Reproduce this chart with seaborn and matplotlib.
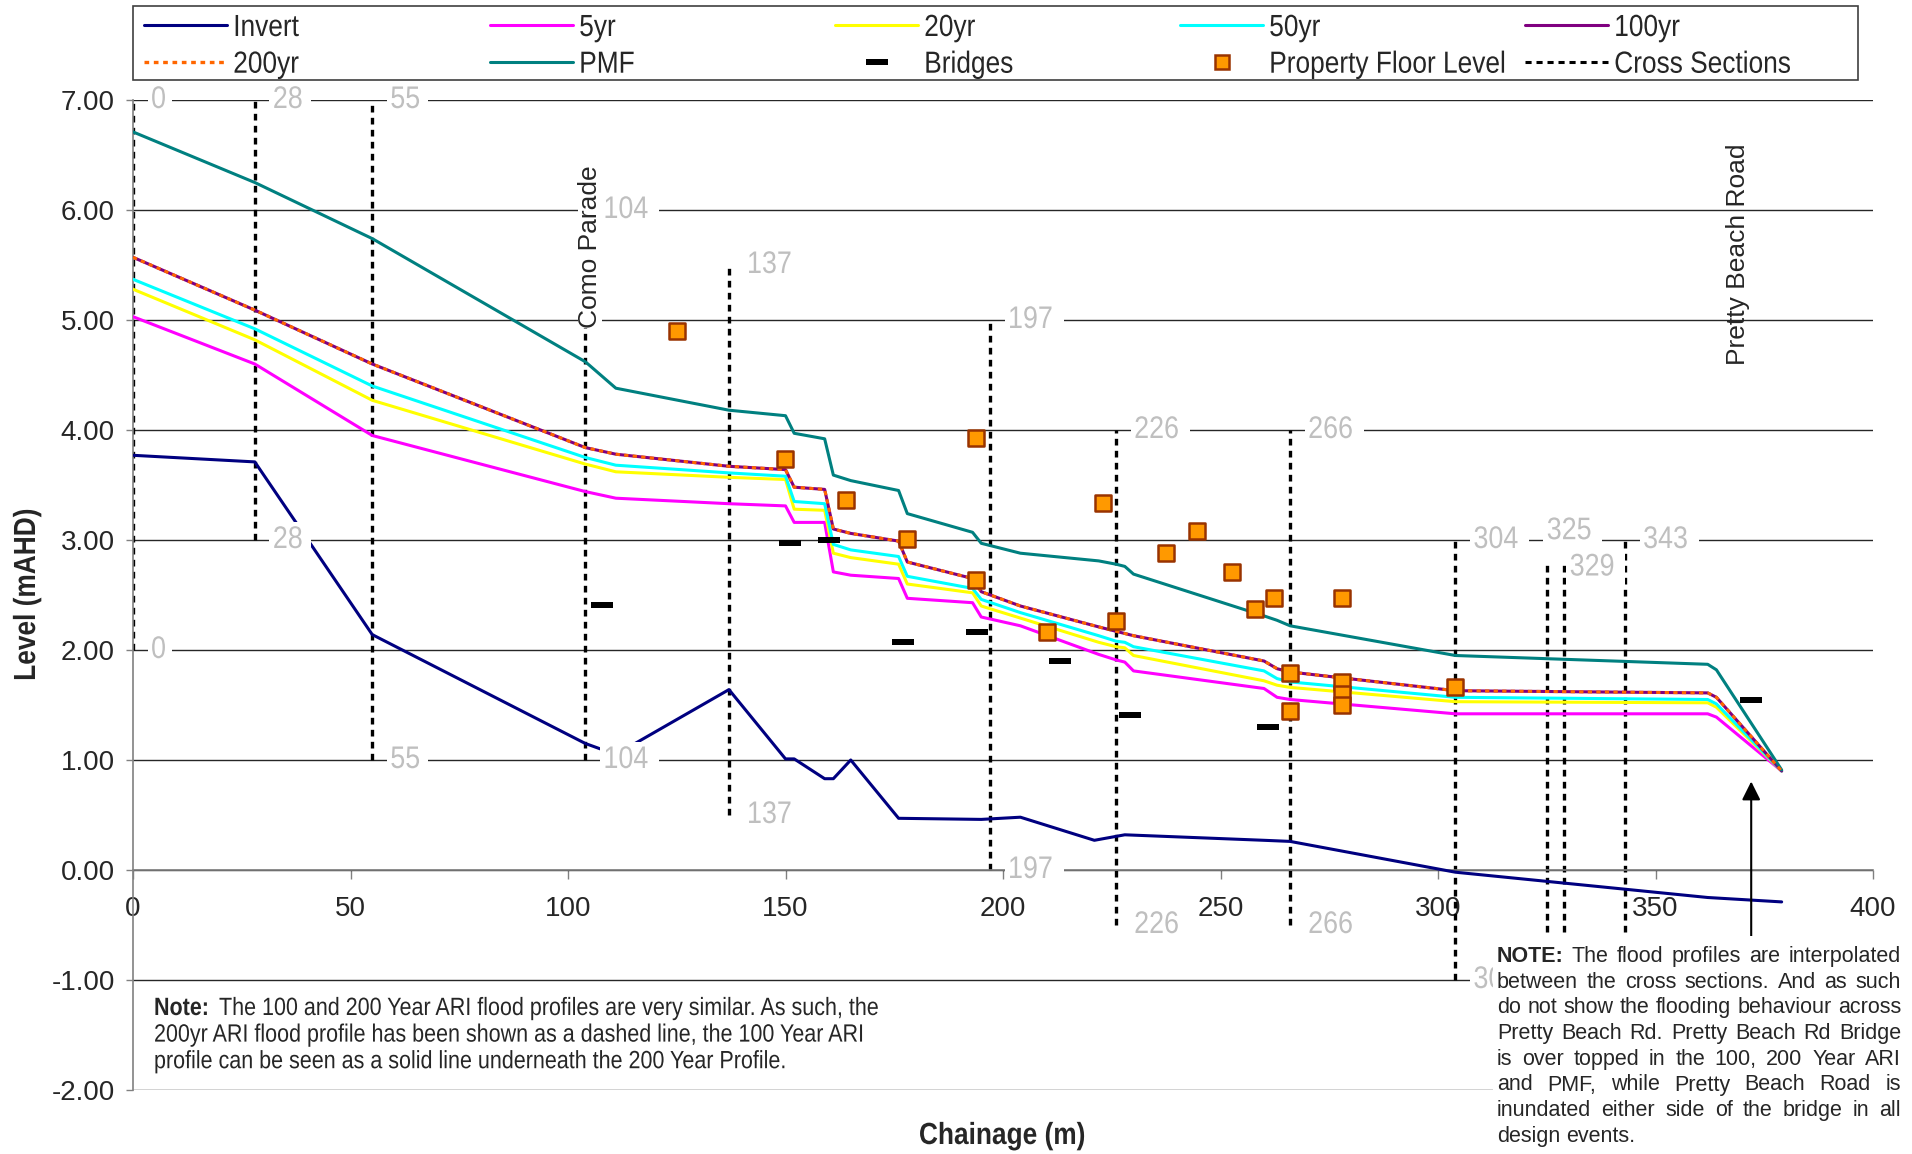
import matplotlib
matplotlib.use("Agg")
import matplotlib.pyplot as plt
import seaborn as sns
from matplotlib.lines import Line2D
from matplotlib.patches import Rectangle
from matplotlib.ticker import FormatStrFormatter
from matplotlib.transforms import Affine2D
from matplotlib.patheffects import AbstractPathEffect
from matplotlib import font_manager as fm

# ---------------- data ----------------
chainage = [0, 28, 55, 104, 111, 137, 150, 152, 159, 161, 165, 176, 178, 193, 195,
            204, 222, 226, 228, 230, 260, 263, 266, 304, 362, 364, 379]
pmf = [6.71, 6.25, 5.74, 4.62, 4.38, 4.18, 4.13, 3.97, 3.92, 3.59, 3.54, 3.45, 3.24, 3.07, 2.97,
       2.88, 2.81, 2.78, 2.76, 2.69, 2.31, 2.27, 2.22, 1.95, 1.87, 1.82, 0.91]
yr200 = [5.57, 5.09, 4.60, 3.84, 3.78, 3.67, 3.64, 3.48, 3.46, 3.10, 3.06, 2.99, 2.80, 2.65, 2.53,
         2.40, 2.21, 2.17, 2.15, 2.13, 1.90, 1.83, 1.80, 1.63, 1.61, 1.57, 0.90]
yr100 = [5.57, 5.09, 4.60, 3.84, 3.78, 3.67, 3.64, 3.48, 3.46, 3.10, 3.06, 2.99, 2.80, 2.65, 2.53,
         2.40, 2.21, 2.17, 2.15, 2.13, 1.90, 1.83, 1.80, 1.63, 1.61, 1.57, 0.90]
yr50 = [5.37, 4.92, 4.40, 3.75, 3.68, 3.61, 3.58, 3.35, 3.33, 2.96, 2.91, 2.85, 2.67, 2.56, 2.46,
        2.34, 2.13, 2.08, 2.07, 2.03, 1.81, 1.74, 1.71, 1.57, 1.55, 1.51, 0.90]
yr20 = [5.28, 4.82, 4.27, 3.69, 3.62, 3.57, 3.55, 3.28, 3.27, 2.88, 2.84, 2.78, 2.60, 2.52, 2.40,
        2.29, 2.07, 2.03, 2.02, 1.95, 1.72, 1.68, 1.66, 1.53, 1.52, 1.48, 0.90]
yr5 = [5.03, 4.60, 3.95, 3.44, 3.38, 3.33, 3.31, 3.16, 3.16, 2.71, 2.68, 2.65, 2.47, 2.43, 2.30,
       2.22, 1.96, 1.91, 1.89, 1.81, 1.65, 1.57, 1.55, 1.42, 1.42, 1.39, 0.90]

invert_chainage = [0, 28, 55, 104, 111, 137, 150, 152, 159, 161, 165, 176, 195, 204,
                   221, 228, 260, 266, 304, 362, 379]
invert = [3.77, 3.71, 2.14, 1.15, 1.05, 1.64, 1.01, 1.01, 0.83, 0.83, 1.00, 0.47, 0.46, 0.48,
          0.27, 0.32, 0.27, 0.26, -0.02, -0.25, -0.29]

bridge_chainage = [107.8, 151.0, 159.9, 176.9, 194.0, 213.1, 229.1, 261.0, 372.0]
bridge_level = [2.41, 2.97, 3.00, 2.07, 2.16, 1.90, 1.41, 1.30, 1.55]

floor_chainage = [125.0, 149.9, 164.0, 178.0, 193.9, 193.9, 210.0, 223.0, 226.0, 237.5, 244.5,
                  252.6, 258.0, 262.4, 266.0, 266.0, 278.0, 278.0, 278.0, 278.0, 303.9]
floor_level = [4.90, 3.74, 3.36, 3.01, 3.93, 2.64, 2.16, 3.34, 2.26, 2.88, 3.08,
               2.71, 2.37, 2.47, 1.79, 1.45, 2.47, 1.71, 1.60, 1.50, 1.66]

xs_chainage = [0, 28, 55, 104, 137, 197, 226, 266, 304, 325, 329, 343]
xs_top = [7.0, 7.0, 7.0, 6.0, 5.5, 5.0, 4.0, 4.0, 3.0, 2.8, 2.8, 3.0]
xs_bottom = [2.0, 3.0, 1.0, 1.0, 0.5, 0.0, -0.5, -0.5, -1.0, -1.0, -1.0, -1.0]
xs_top_labels = ["0", "28", "55", "104", "137", "197", "226", "266", "304", "325", "329", "343"]
# bottom labels of the last three sections sit under the note box in the original
xs_bottom_labels = ["0", "28", "55", "104", "137", "197", "226", "266", "304", "", "", ""]

y_ticks = [-2, -1, 0, 1, 2, 3, 4, 5, 6, 7]
x_ticks = [0, 50, 100, 150, 200, 250, 300, 350, 400]

legend_names = ["Invert", "5yr", "20yr", "50yr", "100yr",
                "200yr", "PMF", "Bridges", "Property Floor Level", "Cross Sections"]

note_left_head = "Note:"
note_left = ["The 100 and 200 Year ARI flood profiles are very similar. As such, the",
             "200yr ARI flood profile has been shown as a dashed line, the 100 Year ARI",
             "profile can be seen as a solid line underneath the 200 Year Profile."]
note_right = ["NOTE: The flood profiles are interpolated",
              "between the cross sections. And as such",
              "do not show the flooding behaviour across",
              "Pretty Beach Rd. Pretty Beach Rd Bridge",
              "is over topped in the 100, 200 Year ARI",
              "and PMF, while Pretty Beach Road is",
              "inundated either side of the bridge in all",
              "design events."]

# ---------------- style ----------------
sns.set_style("white")
names = {f.name for f in fm.fontManager.ttflist}
REG = "Liberation Sans" if "Liberation Sans" in names else "DejaVu Sans"
plt.rcParams["font.family"] = [REG, "DejaVu Sans"]


class Condense(AbstractPathEffect):
    """Draw text horizontally condensed (narrow face look)."""

    def __init__(self, sx):
        super().__init__()
        self.sx = sx

    def draw_path(self, renderer, gc, tpath, affine, rgbFace=None):
        renderer.draw_path(gc, tpath, Affine2D().scale(self.sx, 1.0) + affine, rgbFace)


SX = 0.86
NARROW_FX = [Condense(SX)]

C_INV, C_5, C_20, C_50 = "#000080", "#FF00FF", "#FFFF00", "#00FFFF"
C_100, C_200, C_PMF = "#800080", "#FF6600", "#008080"
C_FLOOR, C_FLOOR_E = "#FF9900", "#993300"
XS_DASH = (0, (2.0, 1.6))
DOT200 = (0, (1.4, 1.4))

W, H = 1912, 1154
fig = plt.figure(figsize=(W / 100, H / 100), dpi=100)
fig.patch.set_facecolor("white")
AX_L, AX_B, AX_W, AX_H = 133, 1154 - 1090, 1740, 990
ax = fig.add_axes([AX_L / W, AX_B / H, AX_W / W, AX_H / H])
ax.set_xlim(0, 400)
ax.set_ylim(-2, 7)
renderer = fig.canvas.get_renderer()


def text_width(s, size, weight="normal"):
    t = fig.text(0, 0, s, fontsize=size, fontweight=weight)
    w = t.get_window_extent(renderer).width
    t.remove()
    return w


# axes styling
for s in ["top", "right"]:
    ax.spines[s].set_visible(False)
ax.spines["left"].set_color("#808080")
ax.spines["left"].set_linewidth(1.2)
ax.spines["bottom"].set_position(("data", 0))
ax.spines["bottom"].set_color("#808080")
ax.spines["bottom"].set_linewidth(1.2)
ax.set_yticks(y_ticks)
ax.set_xticks(x_ticks)
ax.yaxis.set_major_formatter(FormatStrFormatter("%.2f"))
ax.tick_params(axis="y", direction="out", length=5, width=1, color="#808080",
               pad=8, labelsize=20, left=True)
ax.tick_params(axis="x", direction="out", length=6.5, width=1, color="#808080",
               pad=12, labelsize=20, bottom=True)
ax.yaxis.grid(True, color="#262626", linewidth=1)
ax.xaxis.grid(False)
ax.set_axisbelow(True)

# cross sections
ax.vlines(xs_chainage, xs_bottom, xs_top, colors="black", linewidth=2.4,
          linestyles=[XS_DASH], zorder=1.5)

# profiles
prof = [(invert_chainage, invert, C_INV),
        (chainage, yr5, C_5),
        (chainage, yr20, C_20),
        (chainage, yr50, C_50),
        (chainage, yr100, C_100),
        (chainage, pmf, C_PMF)]
for xv, yv, c in prof:
    sns.lineplot(x=xv, y=yv, ax=ax, color=c, linewidth=2.2, sort=False,
                 estimator=None, legend=False, zorder=3)
sns.lineplot(x=chainage, y=yr200, ax=ax, color=C_200, linewidth=2.2, sort=False,
             estimator=None, legend=False, linestyle=DOT200, zorder=3.2)

# bridges & property floor levels
bar = [(-2, -0.5), (2, -0.5), (2, 0.5), (-2, 0.5), (-2, -0.5)]
sns.scatterplot(x=bridge_chainage, y=bridge_level, ax=ax, marker=bar, s=250,
                color="black", edgecolor="black", linewidth=0, zorder=5, legend=False)
sns.scatterplot(x=floor_chainage, y=floor_level, ax=ax, marker="s", s=120,
                color=C_FLOOR, edgecolor=C_FLOOR_E, linewidth=1.8, zorder=6, legend=False)

# cross-section labels
top_dy = {325: 0.28, 329: -0.05}
top_dx = {325: 0, 329: 4}
lab_kw = dict(textcoords="offset points", ha="left", va="center", color="#BFBFBF",
              fontsize=22.5, zorder=4,
              bbox=dict(facecolor="white", edgecolor="none", pad=2.5))
for c, t, b, lt, lb in zip(xs_chainage, xs_top, xs_bottom, xs_top_labels, xs_bottom_labels):
    a = ax.annotate(lt, xy=(c, t + top_dy.get(c, 0)), xytext=(top_dx.get(c, 13), 0), **lab_kw)
    a.set_path_effects(NARROW_FX)
    if lb:
        a = ax.annotate(lb, xy=(c, b), xytext=(13, 0), **lab_kw)
        a.set_path_effects(NARROW_FX)

# road labels
ax.text(105.1, 4.93, "Como Parade", rotation=90, ha="center", va="bottom",
        fontsize=19, zorder=4,
        bbox=dict(facecolor="white", edgecolor="none", pad=0))
ax.text(368.9, 4.59, "Pretty Beach Road", rotation=90, ha="center", va="bottom",
        fontsize=19, zorder=4)

# arrow
ax.annotate("", xy=(372, 0.83), xytext=(372, -0.8),
            arrowprops=dict(arrowstyle="-|>", color="black", lw=1.5, mutation_scale=28),
            zorder=4)

# axis labels (condensed bold, centred by hand because of the condensing)
ylab = "Level (mAHD)"
xlab = "Chainage (m)"
wy = text_width(ylab, 22, "bold") * SX
wx = text_width(xlab, 22, "bold") * SX
ax.set_ylabel(ylab, fontsize=22, fontweight="bold", ha="left", va="center",
              path_effects=NARROW_FX)
ax.yaxis.set_label_coords((27 - AX_L) / AX_W, ((1154 - 595) - wy / 2 - AX_B) / AX_H)
ax.set_xlabel(xlab, fontsize=22, fontweight="bold", ha="left", va="center",
              path_effects=NARROW_FX)
ax.xaxis.set_label_coords((1002 - wx / 2 - AX_L) / AX_W, ((1154 - 1136) - AX_B) / AX_H)

# ---------------- legend ----------------
h_inv = Line2D([], [], color=C_INV, lw=2.2)
h_5 = Line2D([], [], color=C_5, lw=2.2)
h_20 = Line2D([], [], color=C_20, lw=2.2)
h_50 = Line2D([], [], color=C_50, lw=2.2)
h_100 = Line2D([], [], color=C_100, lw=2.2)
h_200 = Line2D([], [], color=C_200, lw=2.4, linestyle=DOT200)
h_pmf = Line2D([], [], color=C_PMF, lw=2.2)
h_br = Line2D([], [], ls="none", marker=bar, markersize=15.5, color="black",
              markeredgewidth=0)
h_fl = Line2D([], [], ls="none", marker="s", markersize=10, markerfacecolor=C_FLOOR,
              markeredgecolor=C_FLOOR_E, markeredgewidth=1.8)
h_xs = Line2D([], [], color="black", lw=2.2, linestyle=XS_DASH)
handles = [h_inv, h_5, h_20, h_50, h_100, h_200, h_pmf, h_br, h_fl, h_xs]
col_x = [144, 490, 835, 1180, 1525]
for i, x in enumerate(col_x):
    leg = fig.legend(handles=[handles[i], handles[i + 5]],
                     labels=[legend_names[i], legend_names[i + 5]],
                     loc="upper left", bbox_to_anchor=(x / W, 1 - 13 / H),
                     bbox_transform=fig.transFigure, frameon=False, borderpad=0,
                     borderaxespad=0, handlelength=2.72, handletextpad=0.2,
                     labelspacing=0.22, prop={"size": 22})
    for t in leg.get_texts():
        t.set_path_effects(NARROW_FX)
fig.patches.append(Rectangle((133 / W, 1 - 80 / H), (1858 - 133) / W, 74 / H,
                             transform=fig.transFigure, fill=False,
                             edgecolor="#404040", linewidth=1.2, zorder=1))


# ---------------- notes ----------------
def place_justified(lines, x0, x1, base0, dy, size):
    sp = text_width("x x", size) - text_width("xx", size)
    for i, line in enumerate(lines):
        words = line.split()
        arts, widths = [], []
        for j, wd in enumerate(words):
            weight = "bold" if (i == 0 and j == 0) else "normal"
            t = fig.text(0, 0, wd, fontsize=size, fontweight=weight,
                         ha="left", va="baseline", zorder=12)
            arts.append(t)
            widths.append(t.get_window_extent(renderer).width)
        if i < len(lines) - 1 and len(words) > 1:
            gap = (x1 - x0 - sum(widths)) / (len(words) - 1)
        else:
            gap = sp
        x = x0
        for t, wd in zip(arts, widths):
            t.set_position((x / W, 1 - (base0 + i * dy) / H))
            x += wd + gap


# left note: condensed, bold "Note:" heading
NL_X, NL_B, NL_DY, NL_FS = 154, 1015, 26.6, 18
head = fig.text(NL_X / W, 1 - NL_B / H, note_left_head, fontsize=NL_FS, fontweight="bold",
                ha="left", va="baseline", path_effects=NARROW_FX)
head_w = head.get_window_extent(renderer).width
for i, line in enumerate(note_left):
    x = NL_X + (head_w + 1 if i == 0 else 0)
    fig.text(x / W, 1 - (NL_B + i * NL_DY) / H, line, fontsize=NL_FS,
             ha="left", va="baseline", path_effects=NARROW_FX)

# right note on a white box that masks the chart below it
fig.patches.append(Rectangle((1493 / W, 0), (W - 1493) / W, (H - 936) / H,
                             transform=fig.transFigure, facecolor="white",
                             edgecolor="none", zorder=10))
place_justified(note_right, 1497, 1901, 962, 25.7, 15.5)

fig.savefig("out.png", dpi=100, facecolor="white")
